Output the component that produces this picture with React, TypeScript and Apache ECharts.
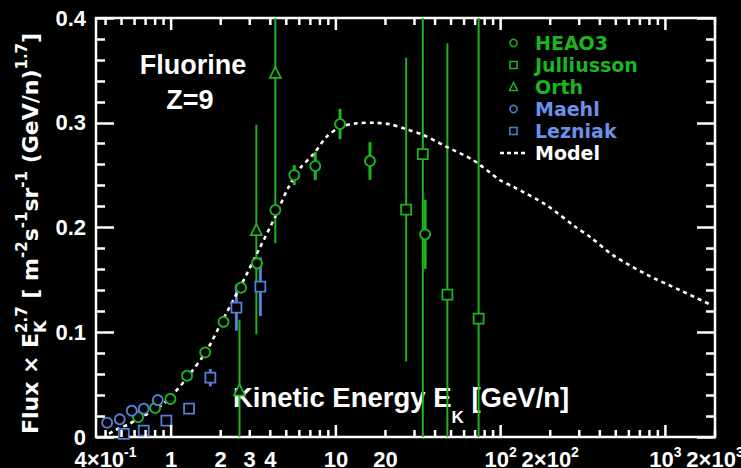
import React, { useEffect, useRef } from 'react';
import * as echarts from 'echarts';

// ---- colours -------------------------------------------------------------
const GREEN = '#1db41d';
const BLUE = '#557fd6';
const BLUE_TEXT = '#6c92e8';
const WHITE = '#ffffff';

// ---- axis ranges -----------------------------------------------------------
const X_MIN = 0.35;
const X_MAX = 2000;
const Y_MIN = 0;
const Y_MAX = 0.4;

// ---- measurements (kinetic energy in GeV/n, flux × E^2.7) ------------------
const heao3Energy = [0.63, 0.8, 0.99, 1.25, 1.61, 2.08, 2.66, 3.32, 4.29, 5.59, 7.5, 10.6, 16.1, 34.8];
const heao3Flux = [0.019, 0.0277, 0.0363, 0.0585, 0.0808, 0.11, 0.1425, 0.1658, 0.2167, 0.25, 0.2587, 0.2988, 0.2635, 0.1935];
const heao3Err = [0, 0, 0, 0, 0, 0, 0, 0, 0, 0.0095, 0.0135, 0.0145, 0.018, 0.033];

const julliussonEnergy = [26.7, 33.7, 47.5, 73.5];
const julliussonFlux = [0.217, 0.27, 0.136, 0.113];
const julliussonErr = [0.145, 0.3, 0.24, 0.33];

const orthEnergy = [2.6, 3.29, 4.29];
const orthFlux = [0.045, 0.198, 0.348];
const orthErr = [0.067, 0.1, 0.163];

const maehlEnergy = [0.409, 0.488, 0.577, 0.682, 0.83];
const maehlFlux = [0.0137, 0.0169, 0.0251, 0.027, 0.0353];

const lezniakEnergy = [0.516, 0.682, 0.936, 1.285, 1.73, 2.49, 3.48];
const lezniakFlux = [0.0029, 0.006, 0.0156, 0.027, 0.0566, 0.1235, 0.1435];
const lezniakErr = [0, 0, 0, 0, 0.0083, 0.022, 0.028];

const modelEnergy = [0.42, 0.46, 0.55, 0.65, 0.82, 1.04, 1.31, 1.65, 2.0, 2.63, 3.4, 4.28, 5.1, 6.1, 7.3, 8.8, 10.6, 13.4, 16.9, 21.3, 26.9, 34, 47, 68, 99, 119, 189, 288, 349, 480, 777, 1220, 1900];
const modelFlux = [0.003, 0.0067, 0.012, 0.0188, 0.0267, 0.0417, 0.0608, 0.083, 0.108, 0.1435, 0.1785, 0.2103, 0.237, 0.257, 0.27, 0.2867, 0.2957, 0.2995, 0.3, 0.2985, 0.2937, 0.2883, 0.277, 0.2644, 0.2453, 0.239, 0.2215, 0.2, 0.191, 0.1737, 0.1547, 0.1403, 0.126];

// ---- x-axis tick marks and labels --------------------------------------------
const xMajorTicks = [1, 10, 100, 1000];
const xMinorMultipliers = [2, 3, 4, 5, 6, 7, 8, 9];
const xDecades = [0.1, 1, 10, 100, 1000];
const xLabelValues = [0.4, 1, 2, 3, 4, 10, 20, 100, 200, 1000, 2000];
const xLabelTexts = ['4×10{s|-1}', '1', '2', '3', '4', '10', '20', '10{s|2}', '2×10{s|2}', '10{s|3}', '2×10{s|3}'];

const TICK_FONT = 'Liberation Sans';
const TEXT_FONT = 'DejaVu Sans';

const measureCtx = typeof document !== 'undefined' ? document.createElement('canvas').getContext('2d') : null;
function textWidth(text: string, size: number, weight: string, family: string) {
  if (!measureCtx) return text.length * size * 0.6;
  measureCtx.font = `${weight} ${size}px "${family}"`;
  return measureCtx.measureText(text).width;
}

type Piece = { t: string; kind: 'main' | 'sup' | 'sub' | 'stack'; t2?: string };

// lays out a run of normal / superscript / subscript pieces along local x
function buildRun(
  pieces: Piece[],
  o: { main: number; small: number; sub: number; weight: string; family: string; supY: number; subY: number; fill: string }
) {
  const children: any[] = [];
  let x = 0;
  const txt = (t: string, size: number, y: number) => ({
    type: 'text',
    x,
    y,
    style: { text: t, fontSize: size, fontWeight: o.weight, fontFamily: o.family, fill: o.fill, align: 'left', verticalAlign: 'middle' },
  });
  for (const p of pieces) {
    if (p.kind === 'main') {
      children.push(txt(p.t, o.main, 0));
      x += textWidth(p.t, o.main, o.weight, o.family);
    } else if (p.kind === 'sup') {
      children.push(txt(p.t, o.small, o.supY));
      x += textWidth(p.t, o.small, o.weight, o.family);
    } else if (p.kind === 'sub') {
      children.push(txt(p.t, o.sub, o.subY));
      x += textWidth(p.t, o.sub, o.weight, o.family);
    } else {
      children.push(txt(p.t, o.small, o.supY));
      children.push(txt(p.t2 || '', o.sub, o.subY));
      x += Math.max(textWidth(p.t, o.small, o.weight, o.family), textWidth(p.t2 || '', o.sub, o.weight, o.family));
    }
  }
  return { children, width: x };
}

function errorBars(xs: number[], ys: number[], errs: number[], color: string, width: number) {
  const data = xs.map((x, i) => [x, ys[i], errs[i]]).filter((d) => d[2] > 0);
  return {
    type: 'custom',
    z: 2,
    silent: true,
    encode: { x: 0, y: 1 },
    data,
    renderItem: (_p: any, api: any) => {
      const x = api.value(0);
      const y = api.value(1);
      const e = api.value(2);
      const lo = api.coord([x, Math.max(y - e, Y_MIN)]);
      const hi = api.coord([x, Math.min(y + e, Y_MAX)]);
      return {
        type: 'line',
        shape: { x1: lo[0], y1: lo[1], x2: hi[0], y2: hi[1] },
        style: { stroke: color, lineWidth: width },
      };
    },
  };
}

function points(name: string, xs: number[], ys: number[], symbol: string, size: number, color: string) {
  return {
    type: 'scatter',
    name,
    z: 4,
    symbol,
    symbolSize: size,
    silent: true,
    data: xs.map((x, i) => [x, ys[i]]),
    itemStyle: { color: '#000', borderColor: color, borderWidth: 1.8, opacity: 1 },
  };
}

function yAxis(position: 'left' | 'right', showLabel: boolean) {
  return {
    type: 'value',
    position,
    min: Y_MIN,
    max: Y_MAX,
    interval: 0.1,
    axisLine: { show: false },
    axisTick: { show: true, inside: true, length: 18, lineStyle: { color: WHITE, width: 2.5 } },
    minorTick: { show: true, splitNumber: 5, length: 9, lineStyle: { color: WHITE, width: 2.5 } },
    splitLine: { show: false },
    minorSplitLine: { show: false },
    axisLabel: {
      show: showLabel,
      color: WHITE,
      fontSize: 22,
      fontWeight: 'bold',
      fontFamily: TICK_FONT,
      margin: 10,
    },
  };
}

function buildOption() {
  const xTicks: number[][] = [];
  for (const d of xDecades) {
    for (const m of xMinorMultipliers) {
      const v = d * m;
      if (v >= X_MIN && v <= X_MAX) xTicks.push([v, 0, 0]);
    }
  }
  for (const v of xMajorTicks) xTicks.push([v, 0, 1]);

  // y-axis title, written bottom-to-top
  const yTitle = buildRun(
    [
      { t: 'Flux × E', kind: 'main' },
      { t: '2.7', kind: 'stack', t2: 'K' },
      { t: ' [ m', kind: 'main' },
      { t: '-2', kind: 'sup' },
      { t: 's', kind: 'main' },
      { t: '-1', kind: 'sup' },
      { t: 'sr', kind: 'main' },
      { t: '-1', kind: 'sup' },
      { t: ' (GeV/n)', kind: 'main' },
      { t: '1.7', kind: 'sup' },
      { t: ']', kind: 'main' },
    ],
    { main: 22, small: 15, sub: 16, weight: 'bold', family: TEXT_FONT, supY: -8, subY: 10, fill: WHITE }
  );

  const xTitle = buildRun(
    [
      { t: 'Kinetic Energy E', kind: 'main' },
      { t: 'K', kind: 'sub' },
      { t: ' [GeV/n]', kind: 'main' },
    ],
    { main: 27.5, small: 17, sub: 17, weight: 'bold', family: TICK_FONT, supY: -8, subY: 20, fill: WHITE }
  );

  const legendRows = [
    { name: 'HEAO3', color: GREEN, text: GREEN, mark: 'circle' },
    { name: 'Julliusson', color: GREEN, text: GREEN, mark: 'rect' },
    { name: 'Orth', color: GREEN, text: GREEN, mark: 'triangle' },
    { name: 'Maehl', color: BLUE, text: BLUE_TEXT, mark: 'circle' },
    { name: 'Lezniak', color: BLUE, text: BLUE_TEXT, mark: 'rect' },
    { name: 'Model', color: WHITE, text: WHITE, mark: 'dash' },
  ];
  const legendEls: any[] = [];
  legendRows.forEach((r, i) => {
    const cy = 43 + i * 22;
    const cx = 513.5;
    const st = { fill: 'none', stroke: r.color, lineWidth: 1.5 };
    if (r.mark === 'circle') legendEls.push({ type: 'circle', shape: { cx, cy, r: 3.6 }, style: st });
    else if (r.mark === 'rect') legendEls.push({ type: 'rect', shape: { x: cx - 3.6, y: cy - 3.6, width: 7.2, height: 7.2 }, style: st });
    else if (r.mark === 'triangle')
      legendEls.push({ type: 'polygon', shape: { points: [[cx, cy - 4.5], [cx - 4, cy + 3.5], [cx + 4, cy + 3.5]] }, style: st });
    else
      legendEls.push({
        type: 'line',
        shape: { x1: 500, y1: cy, x2: 527, y2: cy },
        style: { stroke: WHITE, lineWidth: 2.5, lineDash: [4, 3] },
      });
    legendEls.push({
      type: 'text',
      x: 535,
      y: cy,
      style: { text: r.name, fill: r.text, fontSize: 19, fontWeight: 'bold', fontFamily: TEXT_FONT, verticalAlign: 'middle' },
    });
  });

  return {
    animation: false,
    backgroundColor: '#000',
    grid: { left: 96, right: 26, top: 18, bottom: 31, show: true, borderColor: WHITE, borderWidth: 2.5, backgroundColor: 'transparent' },
    xAxis: {
      type: 'log',
      logBase: 10,
      min: X_MIN,
      max: X_MAX,
      axisLine: { show: false },
      axisTick: { show: false },
      axisLabel: { show: false },
      splitLine: { show: false },
    },
    yAxis: [yAxis('left', true), yAxis('right', false)],
    series: [
      {
        type: 'line',
        name: 'Model',
        z: 3,
        data: modelEnergy.map((x, i) => [x, modelFlux[i]]),
        showSymbol: false,
        symbol: 'none',
        smooth: 0.3,
        silent: true,
        lineStyle: { color: WHITE, width: 2.6, type: [4, 4] },
      },
      errorBars(heao3Energy, heao3Flux, heao3Err, GREEN, 3),
      errorBars(julliussonEnergy, julliussonFlux, julliussonErr, GREEN, 2),
      errorBars(orthEnergy, orthFlux, orthErr, GREEN, 2),
      errorBars(lezniakEnergy, lezniakFlux, lezniakErr, BLUE, 3),
      points('HEAO3', heao3Energy, heao3Flux, 'circle', 10, GREEN),
      points('Julliusson', julliussonEnergy, julliussonFlux, 'rect', 10, GREEN),
      points('Orth', orthEnergy, orthFlux, 'triangle', 11, GREEN),
      points('Maehl', maehlEnergy, maehlFlux, 'circle', 10, BLUE),
      points('Lezniak', lezniakEnergy, lezniakFlux, 'rect', 10, BLUE),
      {
        // log-axis tick marks (bottom and top)
        type: 'custom',
        z: 6,
        silent: true,
        clip: false,
        encode: { x: 0, y: 1 },
        data: xTicks,
        renderItem: (_p: any, api: any) => {
          const v = api.value(0);
          const len = api.value(2) ? 12 : 7;
          const b = api.coord([v, Y_MIN]);
          const t = api.coord([v, Y_MAX]);
          const ls = { stroke: WHITE, lineWidth: 2.5 };
          return {
            type: 'group',
            children: [
              { type: 'line', shape: { x1: b[0], y1: b[1], x2: b[0], y2: b[1] - len }, style: ls },
              { type: 'line', shape: { x1: t[0], y1: t[1], x2: t[0], y2: t[1] + len }, style: ls },
            ],
          };
        },
      },
      {
        // log-axis tick labels
        type: 'custom',
        z: 6,
        silent: true,
        clip: false,
        encode: { x: 0, y: 1 },
        data: xLabelValues.map((v) => [v, Y_MIN]),
        renderItem: (p: any, api: any) => {
          const c = api.coord([api.value(0), Y_MIN]);
          return {
            type: 'text',
            x: c[0],
            y: c[1] + 22,
            style: {
              text: xLabelTexts[p.dataIndex],
              fill: WHITE,
              fontSize: 22,
              fontWeight: 'bold',
              fontFamily: TICK_FONT,
              lineHeight: 28,
              align: 'center',
              verticalAlign: 'middle',
              rich: {
                s: { fontSize: 14, fontWeight: 'bold', fontFamily: TICK_FONT, lineHeight: 14, verticalAlign: 'top', fill: WHITE },
              },
            },
          };
        },
      },
    ],
    graphic: [
      {
        type: 'group',
        x: 30,
        y: 233.5 + yTitle.width / 2,
        rotation: Math.PI / 2,
        z: 20,
        children: yTitle.children,
      },
      { type: 'group', x: 233, y: 397, z: 20, children: xTitle.children },
      {
        type: 'text',
        x: 193,
        y: 65,
        z: 20,
        style: { text: 'Fluorine', fill: WHITE, fontSize: 27, fontWeight: 'bold', fontFamily: TICK_FONT, align: 'center', verticalAlign: 'middle' },
      },
      {
        type: 'text',
        x: 190,
        y: 100,
        z: 20,
        style: { text: 'Z=9', fill: WHITE, fontSize: 27, fontWeight: 'bold', fontFamily: TICK_FONT, align: 'center', verticalAlign: 'middle' },
      },
      { type: 'group', z: 20, children: legendEls },
    ],
  };
}

export default function App() {
  const ref = useRef<HTMLDivElement>(null);
  useEffect(() => {
    document.body.style.margin = '0';
    document.body.style.background = '#000';
    const chart = echarts.init(ref.current as HTMLDivElement, null, { renderer: 'svg' });
    chart.setOption(buildOption() as any);
    return () => chart.dispose();
  }, []);
  return <div ref={ref} style={{ width: 741, height: 468, background: '#000' }} />;
}
